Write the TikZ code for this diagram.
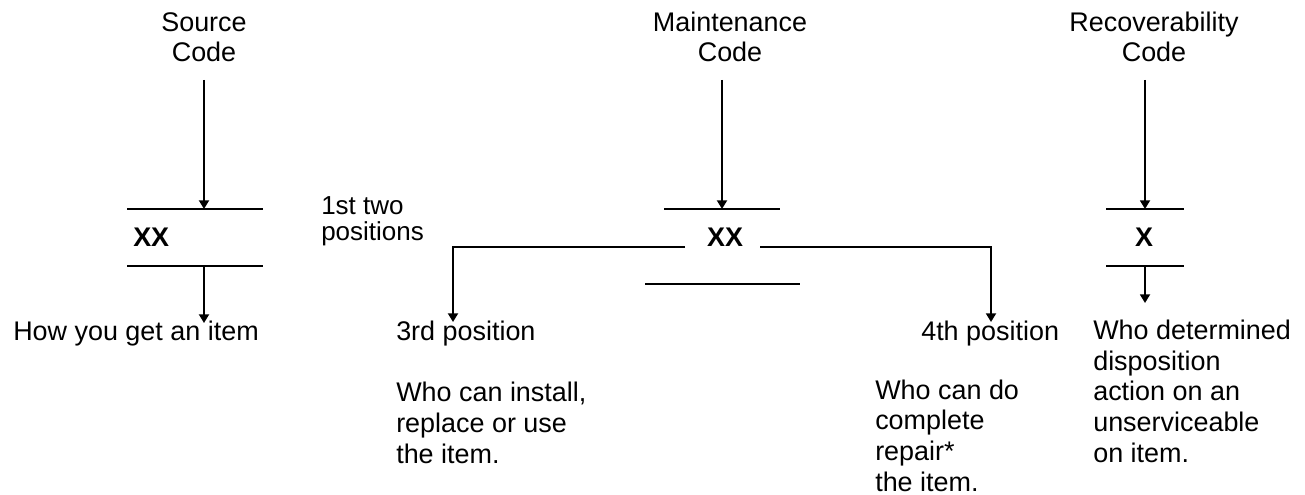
\documentclass[tikz,border=0pt]{standalone}
\usepackage{fontspec}
\setmainfont{Liberation Sans}
\usetikzlibrary{arrows.meta}
\begin{document}
\begin{tikzpicture}[x=0.75pt,y=-0.75pt,
  lbl/.style={inner sep=0pt, font=\fontsize{20.2}{22.9}\selectfont},
  code/.style={lbl, font=\fontsize{20.2}{22.9}\selectfont\bfseries},
  bar/.style={line width=1.4pt},
  arr/.style={line width=1.4pt,-{Triangle[width=7.5pt,length=6.5pt]}},
]
\useasboundingbox (0,0) rectangle (1305,495);

% headings (base anchor = baseline of last line)
\node[lbl, align=center, anchor=base] (src) at (204,62) {Source\\Code};
\node[lbl, align=center, anchor=base] (mnt) at (730,62) {Maintenance\\Code};
\node[lbl, align=center, anchor=base] (rec) at (1154,62) {Recoverability\\Code};

% codes
\node[code, anchor=base west] (xxs) at (133,247) {XX};
\node[code, anchor=base] (xxm) at (725,247) {XX};
\node[code, anchor=base] (xr) at (1144,247) {X};

\node[lbl, align=left, anchor=base west, font=\fontsize{19.5}{19.5}\selectfont] (first) at (321,240) {1st two\\positions};

% coordinates
\coordinate (sTop) at (204,80);
\coordinate (sBar) at (204,209);
\coordinate (sLow) at (204,266);
\coordinate (sEnd) at (204,323);
\coordinate (mTop) at (722,80);
\coordinate (mBar) at (722,209);
\coordinate (rTop) at (1145,80);
\coordinate (rBar) at (1145,209);
\coordinate (rLow) at (1145,266);
\coordinate (rEnd) at (1145,303);
\coordinate (mL) at (685,247);
\coordinate (mLc) at (453,247);
\coordinate (mLe) at (453,322);
\coordinate (mR) at (760,247);
\coordinate (mRc) at (991,247);
\coordinate (mRe) at (991,322);

% bars
\draw[bar] (127,209) coordinate (b1a) -- (263,209) coordinate (b1b);
\draw[bar] (127,266) coordinate (b2a) -- (263,266) coordinate (b2b);
\draw[bar] (664,209) coordinate (b3a) -- (780,209) coordinate (b3b);
\draw[bar] (645,284) coordinate (b4a) -- (800,284) coordinate (b4b);
\draw[bar] (1106,209) coordinate (b5a) -- (1184,209) coordinate (b5b);
\draw[bar] (1106,266) coordinate (b6a) -- (1184,266) coordinate (b6b);

% arrows
\draw[arr] (sTop) -- (sBar);
\draw[arr] (sLow) -- (sEnd);
\draw[arr] (mTop) -- (mBar);
\draw[arr] (rTop) -- (rBar);
\draw[arr] (rLow) -- (rEnd);
\draw[arr] (mL) -- (mLc) -- (mLe);
\draw[arr] (mR) -- (mRc) -- (mRe);

% bottom texts (base anchor = baseline of last line)
\node[lbl, anchor=base west] (how) at (13,340) {How you get an item};
\node[lbl, anchor=base west] (p3) at (396,340) {3rd position};
\node[lbl, align=left, anchor=base west] (w3) at (396,463) {Who can install,\\replace or use\\the item.};
\node[lbl, anchor=base west] (p4) at (921,340) {4th position};
\node[lbl, align=left, anchor=base west] (w4) at (875,491) {Who can do\\complete\\repair*\\the item.};
\node[lbl, align=left, anchor=base west] (wr) at (1093,462) {Who determined\\disposition\\action on an\\unserviceable\\on item.};
\end{tikzpicture}
\end{document}
